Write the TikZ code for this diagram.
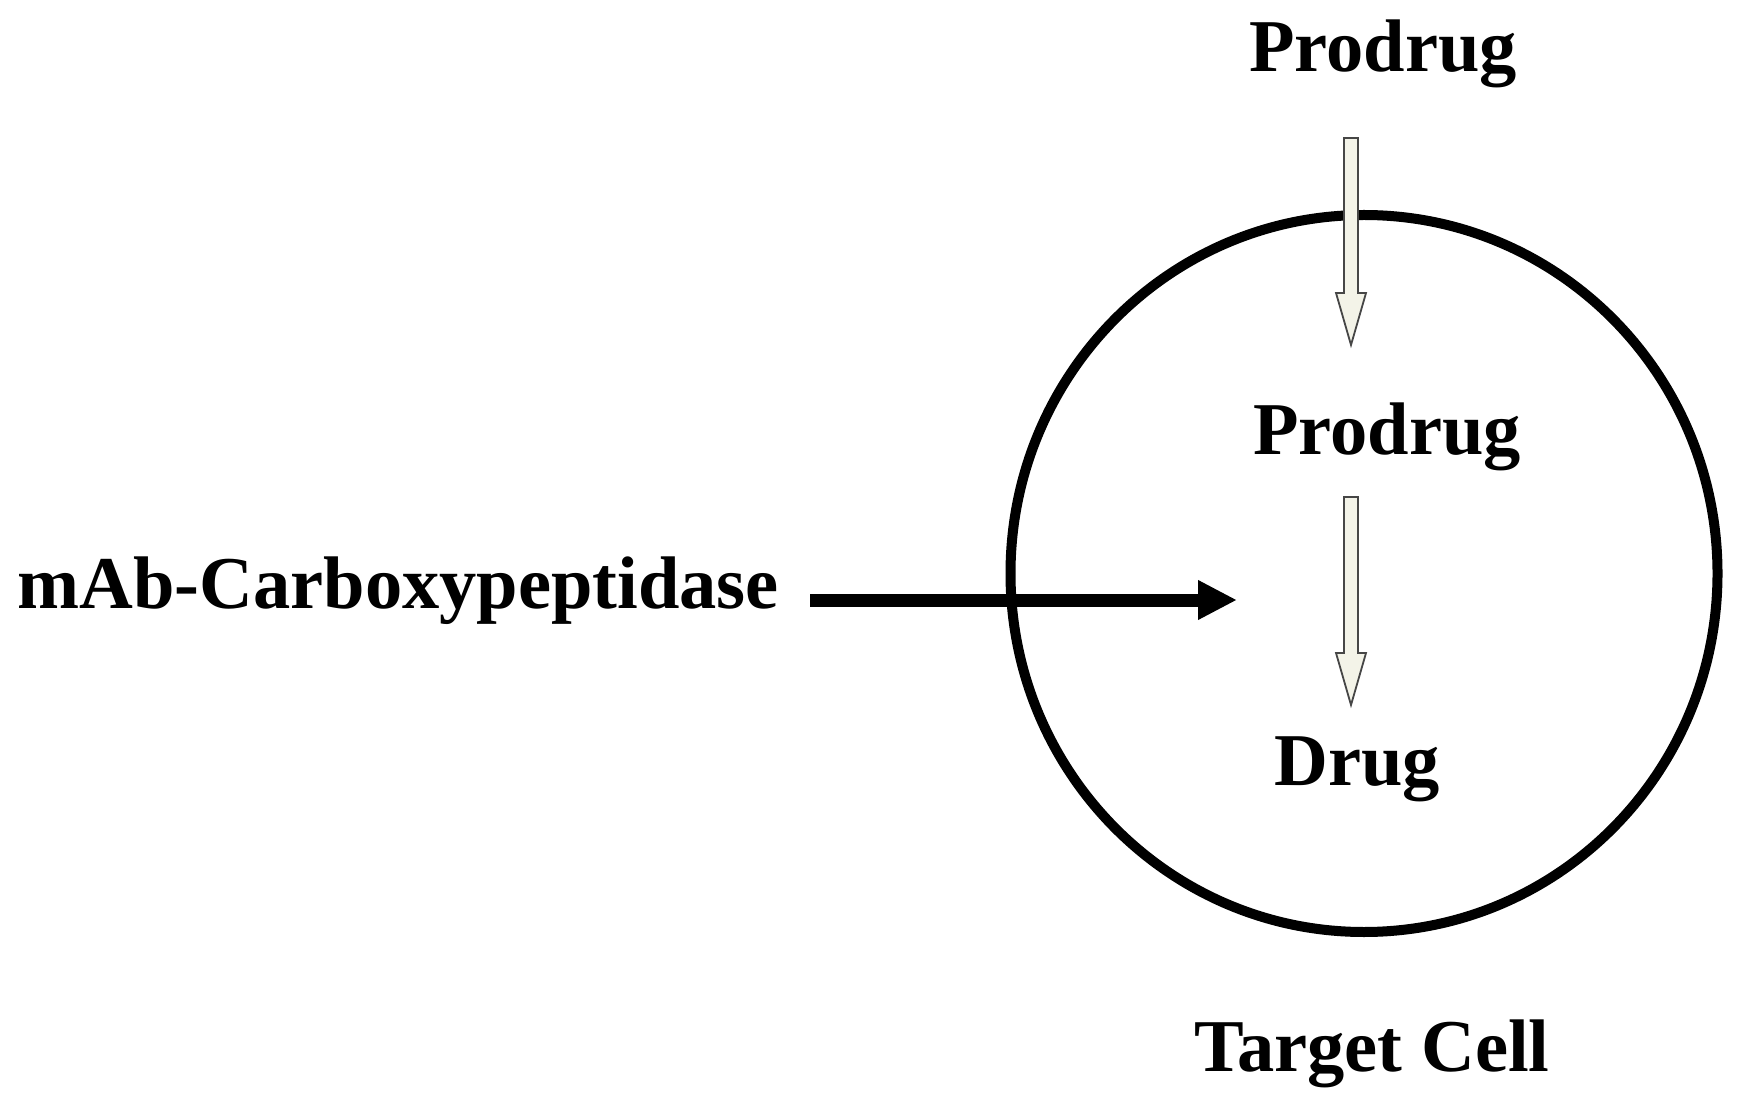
\documentclass[tikz,border=0pt]{standalone}
\usepackage{fontspec}
\setmainfont{Liberation Serif}
\usetikzlibrary{arrows.meta}
\definecolor{ivory}{RGB}{243,243,232}
\definecolor{edgegray}{RGB}{70,70,70}
\tikzset{
  lbl/.style={font=\fontsize{37.25}{40}\selectfont\bfseries, inner sep=0pt, text=black},
  cellline/.style={line width=5pt, draw=black},
  blockarrow/.style={fill=ivory, draw=edgegray, line width=0.9pt, line join=miter},
  enzarrow/.style={line width=6.5pt, -{Triangle[length=19.5pt,width=18.5pt]}}
}
\begin{document}
\begin{tikzpicture}[x=0.5pt,y=-0.5pt]
\useasboundingbox (0,0) rectangle (1739,1106);
% target cell
\coordinate (cc) at (1364,573.5);
\draw[cellline] (cc) ellipse[x radius=176.75pt, y radius=179.25pt];
% labels
\node[lbl, anchor=base] (pro1) at (1383,72) {Prodrug};
\node[lbl, anchor=base] (pro2) at (1387,455) {Prodrug};
\node[lbl, anchor=base] (drug) at (1357,785) {Drug};
\node[lbl, anchor=base west] (mab) at (17,608) {mAb-Carboxypeptidase};
\node[lbl, anchor=base] (cell) at (1372,1071) {Target Cell};
% block arrow 1
\coordinate (a1top) at (1351,138);
\coordinate (a1tip) at (1351,345);
\path[blockarrow] ([xshift=-3.5pt]a1top) -- ([xshift=3.5pt]a1top)
  -- ([xshift=3.5pt,yshift=26pt]a1tip) -- ([xshift=7.5pt,yshift=26pt]a1tip)
  -- (a1tip) -- ([xshift=-7.5pt,yshift=26pt]a1tip)
  -- ([xshift=-3.5pt,yshift=26pt]a1tip) -- cycle;
% block arrow 2
\coordinate (a2top) at (1351,497);
\coordinate (a2tip) at (1351,705);
\path[blockarrow] ([xshift=-3.5pt]a2top) -- ([xshift=3.5pt]a2top)
  -- ([xshift=3.5pt,yshift=26pt]a2tip) -- ([xshift=7.5pt,yshift=26pt]a2tip)
  -- (a2tip) -- ([xshift=-7.5pt,yshift=26pt]a2tip)
  -- ([xshift=-3.5pt,yshift=26pt]a2tip) -- cycle;
% enzyme arrow
\coordinate (e0) at (810,600);
\coordinate (e1) at (1237,600);
\draw[enzarrow] (e0) -- (e1);
\end{tikzpicture}
\end{document}
